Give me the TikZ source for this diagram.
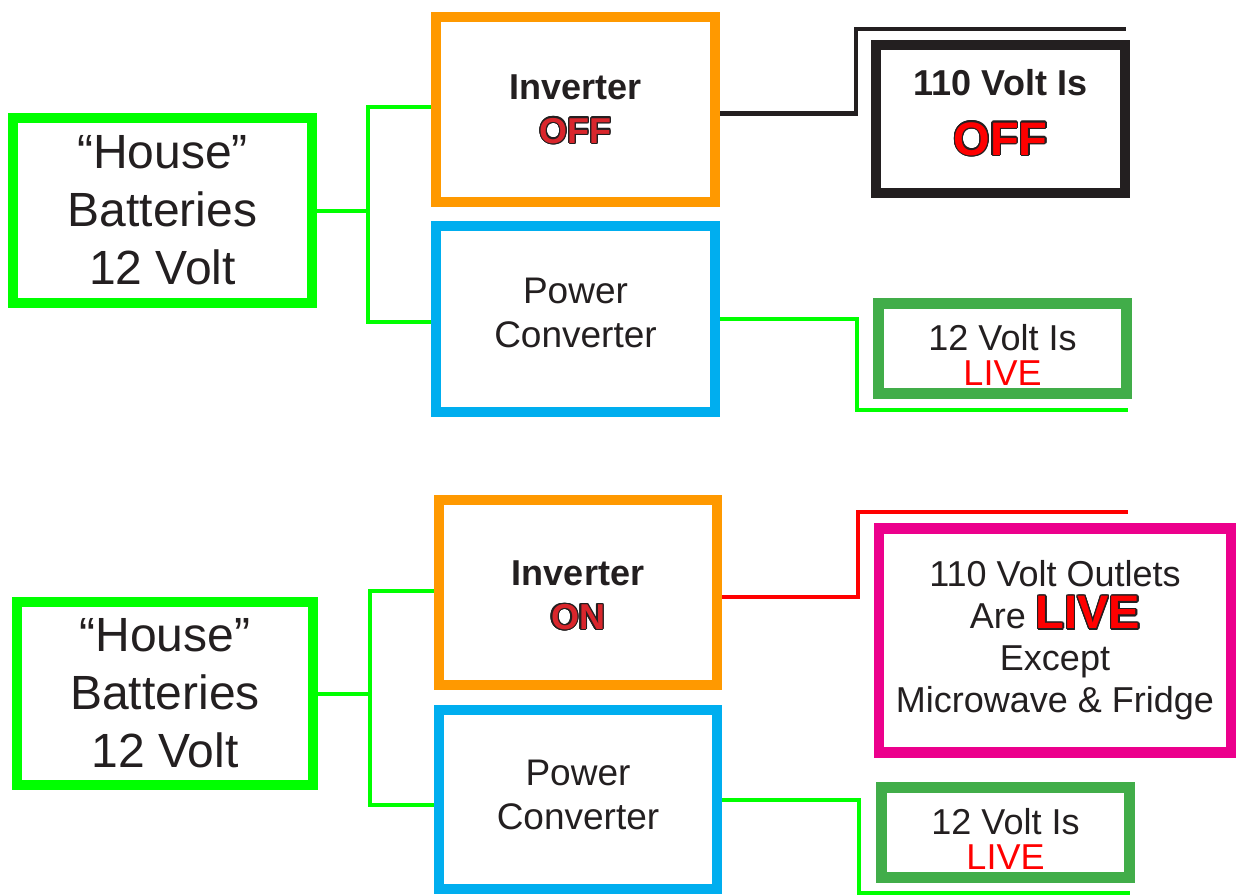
\documentclass[tikz,border=0pt]{standalone}
\usepackage{fontspec}
\setmainfont{Liberation Sans}
\usepackage{contour}
\contourlength{1.3pt}
\contournumber{16}
\definecolor{txt}{HTML}{231F20}
\definecolor{orng}{HTML}{FF9900}
\definecolor{blu}{HTML}{00AEEF}
\definecolor{myLime}{HTML}{00FF00}
\definecolor{dkgreen}{HTML}{41AD49}
\definecolor{myPink}{HTML}{EC008C}
\definecolor{offred}{HTML}{D9262C}
\newcommand\outl[2]{{\color{#1}\contour{txt}{#2}}}
\newcommand\shiftby[2]{\raisebox{#1}[\height][\depth]{\begin{tabular}{@{}c@{}}#2\end{tabular}}}
\begin{document}
\begin{tikzpicture}[x=1pt,y=-1pt,
  box/.style={draw, line width=10pt, inner sep=0pt, align=center, text=txt},
  gline/.style={draw=myLime, line width=4pt},
  bline/.style={draw=txt, line width=4.5pt},
  rline/.style={draw=red, line width=4pt}]
\fill[white] (0,0) rectangle (1236,895);
\useasboundingbox (0,0) rectangle (1236,895);
% ---------- top half ----------
\node[box, draw=myLime, minimum width=299pt, minimum height=185pt,
  font=\fontsize{48}{58}\selectfont] (batt1) at (162.5,210.5)
  {“House”\\Batteries\\12 Volt};
\node[box, draw=orng, minimum width=279pt, minimum height=185pt,
  font=\fontsize{36}{44}\selectfont] (inv1) at (575.5,109.5)
  {\textbf{Inverter}\\{\fontsize{36}{40}\selectfont\bfseries\outl{offred}{OFF}}};
\node[box, draw=blu, minimum width=279pt, minimum height=186pt,
  font=\fontsize{37}{44}\selectfont] (conv1) at (575.5,319)
  {\shiftby{2pt}{Power\\Converter}};
\node[box, draw=txt, minimum width=249pt, minimum height=148pt,
  font=\fontsize{36}{60}\selectfont] (off1) at (1000.5,119)
  {\shiftby{6pt}{\textbf{110 Volt Is}\\{\fontsize{47}{50}\selectfont\bfseries\outl{red}{OFF}}}};
\node[box, draw=dkgreen, line width=10.5pt, minimum width=248pt, minimum height=90pt,
  font=\fontsize{36}{34}\selectfont] (live1) at (1002.5,348.5)
  {\shiftby{-12pt}{12 Volt Is\\{\color{red}LIVE}}};
\coordinate (j1) at (368,210.5);
\coordinate (c1) at (856,29);
\coordinate (e1) at (1126,29);
\coordinate (c2) at (857,410);
\coordinate (e2) at (1128,410);
\draw[gline] (batt1.east) -- (j1);
\draw[gline] ([yshift=3pt]inv1.west) -| (j1) |- ([yshift=-3pt]conv1.west);
\draw[bline] ([yshift=-4pt]inv1.east) -| (c1) -- (e1);
\draw[gline] (conv1.east) -| (c2) -- (e2);
% ---------- bottom half ----------
\node[box, draw=myLime, minimum width=296pt, minimum height=183pt,
  font=\fontsize{48}{58}\selectfont] (batt2) at (165,693.5)
  {“House”\\Batteries\\12 Volt};
\node[box, draw=orng, minimum width=278pt, minimum height=185pt,
  font=\fontsize{36}{44}\selectfont] (inv2) at (578,592.5)
  {\shiftby{-6pt}{\textbf{Inverter}\\{\fontsize{36}{44}\selectfont\bfseries\outl{offred}{ON}}}};
\node[box, draw=blu, minimum width=278pt, minimum height=179pt,
  font=\fontsize{37}{44}\selectfont] (conv2) at (578,799.5)
  {\shiftby{1pt}{Power\\Converter}};
\node[box, draw=myPink, line width=10.5pt, minimum width=352pt, minimum height=224pt,
  font=\fontsize{36}{42}\selectfont] (out2) at (1055,640.5)
  {110 Volt Outlets\\Are {\fontsize{47}{44}\selectfont\bfseries\outl{red}{LIVE}}\\Except\\Microwave \& Fridge};
\node[box, draw=dkgreen, line width=10.5pt, minimum width=248pt, minimum height=90pt,
  font=\fontsize{36}{34}\selectfont] (live2) at (1005.5,832.5)
  {\shiftby{-12pt}{12 Volt Is\\{\color{red}LIVE}}};
\coordinate (j2) at (370,693.5);
\coordinate (c3) at (858,512);
\coordinate (e3) at (1128,512);
\coordinate (c4) at (859,893);
\coordinate (e4) at (1130,893);
\draw[gline] (batt2.east) -- (j2);
\draw[gline] ([yshift=2pt]inv2.west) -| (j2) |- ([yshift=-5pt]conv2.west);
\draw[rline] ([yshift=-4pt]inv2.east) -| (c3) -- (e3);
\draw[gline] (conv2.east) -| (c4) -- (e4);
\end{tikzpicture}
\end{document}
